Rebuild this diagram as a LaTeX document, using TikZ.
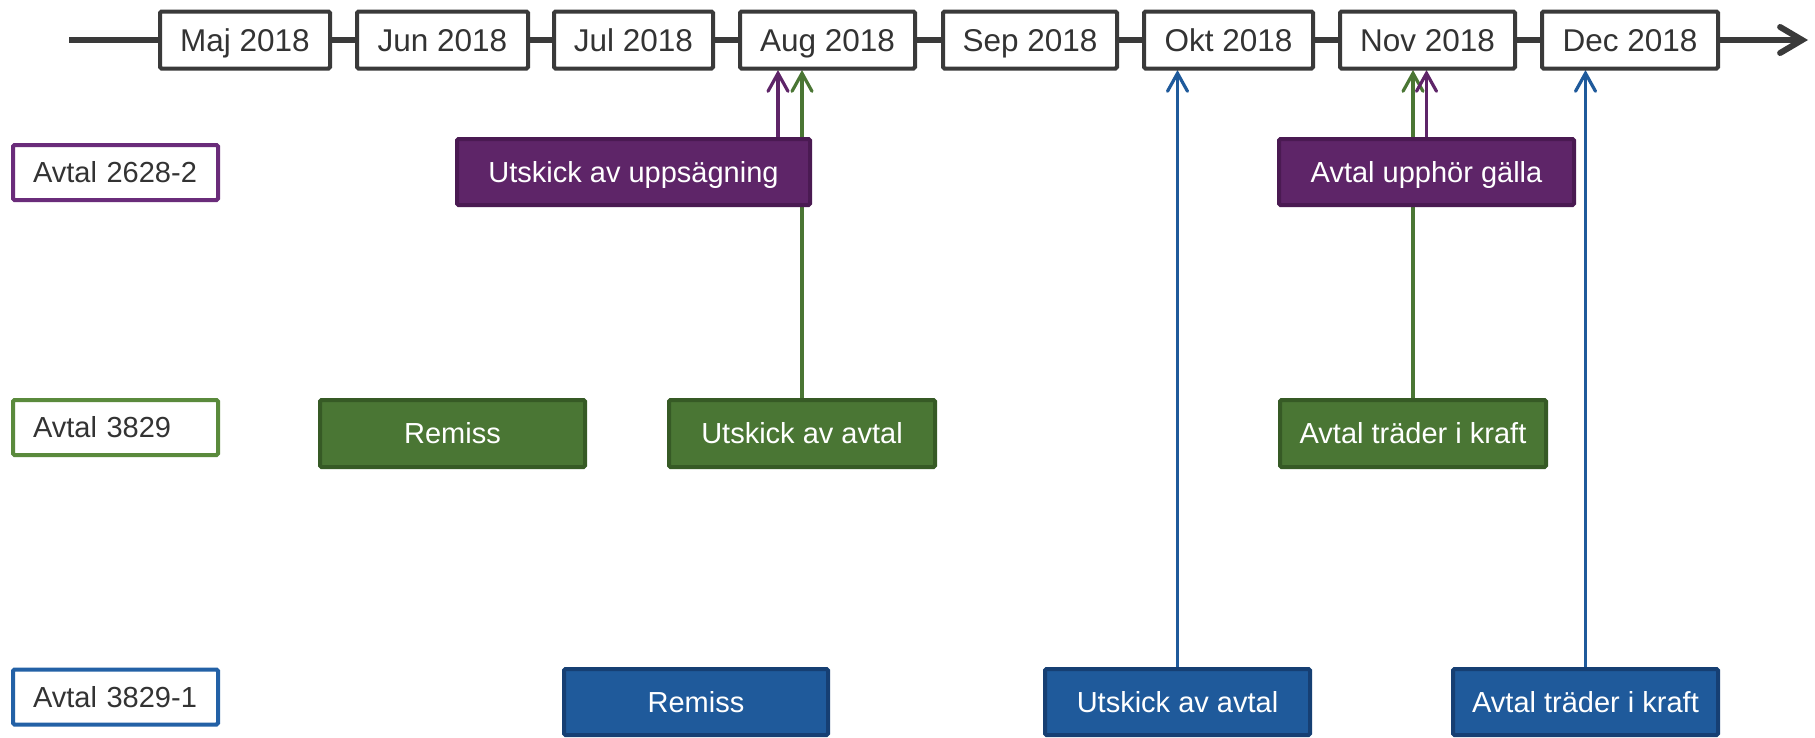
\documentclass[tikz,border=0pt]{standalone}
\usepackage{fontspec}
\setmainfont{Liberation Sans}
\usetikzlibrary{arrows.meta,backgrounds}
\definecolor{tl}{HTML}{3A3A3A}
\definecolor{txt}{HTML}{333333}
\definecolor{pfill}{HTML}{5E2568}
\definecolor{pdraw}{HTML}{4A1A52}
\definecolor{plab}{HTML}{6A2C7A}
\definecolor{gfill}{HTML}{4A7634}
\definecolor{gdraw}{HTML}{365A25}
\definecolor{glab}{HTML}{5A8A3C}
\definecolor{bfill}{HTML}{1F5A9B}
\definecolor{bdraw}{HTML}{163F73}
\definecolor{blab}{HTML}{2361A6}
\tikzset{
  month/.style={draw=tl, line width=4pt, fill=white, text=txt, inner sep=0pt, outer sep=1.5pt,
    minimum height=57pt, text height=22.6pt, text depth=0pt,
    font=\fontsize{31.5pt}{36pt}\selectfont, rounded corners=1.5pt},
  lab/.style={draw=#1, line width=4pt, fill=white, text=txt, inner xsep=20pt, inner ysep=0pt,
    outer sep=0pt, text width=165pt, align=left, minimum height=55pt,
    text height=20.8pt, text depth=0pt,
    font=\fontsize{29pt}{34pt}\selectfont, rounded corners=1.5pt},
  ev/.style={inner sep=0pt, outer sep=0pt, line width=4pt, text=white, minimum height=66pt,
    text height=20.8pt, text depth=0pt,
    font=\fontsize{29pt}{34pt}\selectfont, rounded corners=1.5pt},
  pev/.style={ev, fill=pfill, draw=pdraw},
  gev/.style={ev, fill=gfill, draw=gdraw},
  bev/.style={ev, fill=bfill, draw=bdraw},
  tline/.style={draw=tl, line width=6.5pt},
  conn/.style={line width=3.2pt, -{Straight Barb[length=18pt,width=20pt,line width=3.2pt,line cap=round]}},
}
\begin{document}
\begin{tikzpicture}[x=1pt,y=-1pt]
\useasboundingbox (0,0) rectangle (1815,737);
% timeline months
\node[month, minimum width=170pt] (maj) at (245,40) {Maj 2018};
\node[month, minimum width=171pt] (jun) at (442.5,40) {Jun 2018};
\node[month, minimum width=159pt] (jul) at (633.5,40) {Jul 2018};
\node[month, minimum width=175pt] (aug) at (827.5,40) {Aug 2018};
\node[month, minimum width=174pt] (sep) at (1030,40) {Sep 2018};
\node[month, minimum width=169pt] (okt) at (1228.5,40) {Okt 2018};
\node[month, minimum width=175pt] (nov) at (1427.5,40) {Nov 2018};
\node[month, minimum width=176pt] (dec) at (1630,40) {Dec 2018};
\coordinate (tstart) at (69,40);
\coordinate (tend) at (1808,40);
% row labels
\node[lab=plab] (l1) at (115.5,172.5) {Avtal 2628-2};
\node[lab=glab] (l2) at (115.5,427.5) {Avtal 3829};
\node[lab=blab] (l3) at (115.5,697) {Avtal 3829-1};
% events
\node[pev, minimum width=353pt] (p1) at (633.5,172) {Utskick av uppsägning};
\node[pev, minimum width=295pt] (p2) at (1426.5,172) {Avtal upphör gälla};
\node[gev, minimum width=265pt, minimum height=67pt] (g1) at (452.5,433.5) {Remiss};
\node[gev, minimum width=266pt, minimum height=67pt] (g2) at (802,433.5) {Utskick av avtal};
\node[gev, minimum width=266pt, minimum height=67pt] (g3) at (1413,433.5) {Avtal träder i kraft};
\node[bev, minimum width=264pt] (b1) at (696,702) {Remiss};
\node[bev, minimum width=265pt] (b2) at (1177.5,702) {Utskick av avtal};
\node[bev, minimum width=265pt] (b3) at (1585.5,702) {Avtal träder i kraft};
\coordinate (p1top) at ([xshift=-32pt]p1.north east);
\begin{scope}[on background layer]
  \fill[white] (0,0) rectangle (1815,737);
  \draw[tline] (tstart) -- (maj);
  \draw[tline] (maj) -- (jun);
  \draw[tline] (jun) -- (jul);
  \draw[tline] (jul) -- (aug);
  \draw[tline] (aug) -- (sep);
  \draw[tline] (sep) -- (okt);
  \draw[tline] (okt) -- (nov);
  \draw[tline] (nov) -- (dec);
  \draw[tline, -{Straight Barb[length=22pt,width=26pt,line width=6pt,line cap=round]}] (dec) -- (tend);
  \draw[conn, pfill] (p1top) -- (p1top |- aug.south);
  \draw[conn, gfill] (g2.north) -- (g2.north |- aug.south);
  \draw[conn, bfill] (b2.north) -- (b2.north |- okt.south);
  \draw[conn, gfill] (g3.north) -- (g3.north |- nov.south);
  \draw[conn, pfill] (p2.north) -- (p2.north |- nov.south);
  \draw[conn, bfill] (b3.north) -- (b3.north |- dec.south);
\end{scope}
\end{tikzpicture}
\end{document}
